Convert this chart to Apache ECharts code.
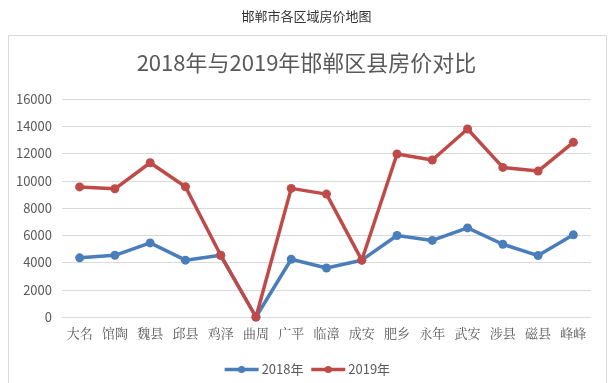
<!DOCTYPE html>
<html><head><meta charset="utf-8">
<script src="https://cdn.jsdelivr.net/npm/echarts@6/dist/echarts.min.js"></script>
<style>html,body{margin:0;padding:0;background:#fff}#c{width:613px;height:383px}</style>
</head><body><div id="c"></div>
<script>
const categories = ['大名','馆陶','魏县','邱县','鸡泽','曲周','广平','临漳','成安','肥乡','永年','武安','涉县','磁县','峰峰'];
const values2018 = [4340,4530,5440,4170,4530,0,4240,3600,4170,5980,5620,6540,5340,4510,6030];
const values2019 = [9550,9410,11320,9560,4530,0,9440,9020,4170,11960,11520,13800,10980,10710,12820];
const yTicks = [0,2000,4000,6000,8000,10000,12000,14000,16000];
const seriesNames = ['2018年','2019年'];

const chart = echarts.init(document.getElementById('c'));
const labelFont = '"Noto Sans CJK SC", sans-serif';
chart.setOption({
  animation:false,
  graphic:[
    {type:'rect',shape:{x:8.5,y:35.5,width:598,height:360},style:{fill:'none',stroke:'#d9d9d9',lineWidth:1},z:-1},
    {type:'text',left:'center',top:10,style:{text:'邯郸市各区域房价地图',font:'13px "Noto Sans CJK SC"',fill:'#333'}}
  ],
  title:{text:'2018年与2019年邯郸区县房价对比',left:'center',top:47,
    textStyle:{fontSize:22,fontWeight:'normal',color:'#595959',fontFamily:labelFont}},
  legend:{data:seriesNames,bottom:2,left:'center',itemWidth:34,itemHeight:9,itemGap:6,
    textStyle:{fontSize:13,color:'#595959',fontFamily:labelFont,padding:[0,0,0,-2]},
    lineStyle:{width:3.5}},
  grid:{left:62,right:22,top:99,bottom:66,containLabel:false},
  xAxis:{type:'category',data:categories,boundaryGap:true,
    axisLine:{show:true,lineStyle:{color:'#d9d9d9'}},axisTick:{show:false},
    axisLabel:{color:'#595959',fontSize:13,fontFamily:'"Noto Serif CJK SC","Noto Sans CJK SC",serif',margin:10,interval:0}},
  yAxis:{type:'value',min:0,max:16000,interval:2000,
    axisLine:{show:false},axisTick:{show:false},
    splitLine:{lineStyle:{color:'#d9d9d9',width:1}},
    axisLabel:{color:'#595959',fontSize:13,fontFamily:labelFont,margin:10,
      formatter:v=>yTicks.includes(v)?String(v):''}},
  series:[
    {name:seriesNames[0],type:'line',data:values2018,symbol:'circle',symbolSize:9,
      lineStyle:{width:3.5,color:'#4a7ebb'},itemStyle:{color:'#4a7ebb'},z:2},
    {name:seriesNames[1],type:'line',data:values2019,symbol:'circle',symbolSize:9,
      lineStyle:{width:3.5,color:'#be4b48'},itemStyle:{color:'#be4b48'},z:3}
  ]
});
</script></body></html>
